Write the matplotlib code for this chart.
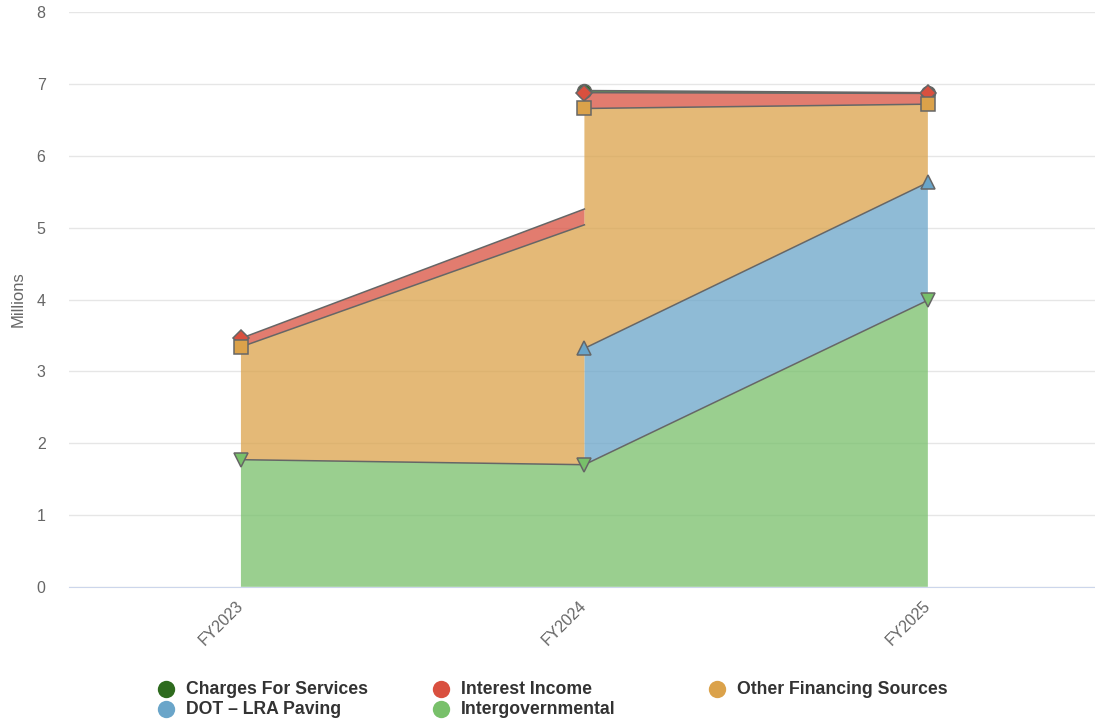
import matplotlib.pyplot as plt
import numpy as np

plt.rcParams["font.family"] = ["Liberation Sans", "DejaVu Sans"]

years = ["FY2023", "FY2024", "FY2025"]
# stacked bottom to top, values in millions (None = no data)
intergovernmental = [1.77, 1.70, 3.99]
dot_lra_paving = [None, 1.62, 1.64]
other_financing = [1.57, 3.34, 1.09]
interest_income = [0.12, 0.22, 0.15]
charges_for_services = [None, 0.03, 0.01]

series = [
    ("Intergovernmental", intergovernmental, "#78c06a", "v"),
    ("DOT \u2013 LRA Paving", dot_lra_paving, "#6aa5c9", "^"),
    ("Other Financing Sources", other_financing, "#dba24a", "s"),
    ("Interest Income", interest_income, "#d9503f", "D"),
    ("Charges For Services", charges_for_services, "#2e6b1e", "o"),
]
legend_order = ["Charges For Services", "Interest Income", "Other Financing Sources",
                "DOT \u2013 LRA Paving", "Intergovernmental"]

fig = plt.figure(figsize=(10.95, 7.2), dpi=100)
ax = fig.add_axes([0.0632, 0.185, 0.941, 0.798])

x = np.arange(len(years))
line_col = "#666666"

# per segment stacks: a series only counts where it has data at both ends
tops = {name: [] for name, *_ in series}
bots = {name: [] for name, *_ in series}
for i in range(len(years) - 1):
    base = np.zeros(2)
    for name, vals, col, mk in series:
        a, b = vals[i], vals[i + 1]
        if a is None or b is None:
            continue
        top = base + np.array([a, b])
        tops[name].append((x[i:i + 2], top))
        bots[name].append((x[i:i + 2], base.copy()))
        ax.plot(x[i:i + 2], top, color=line_col, lw=1.1, zorder=3)
        base = top

# one polygon per series so there are no seams at the steps
for name, vals, col, mk in series:
    if not tops[name]:
        continue
    tx = np.concatenate([s[0] for s in tops[name]])
    ty = np.concatenate([s[1] for s in tops[name]])
    bx = np.concatenate([s[0] for s in bots[name]])
    by = np.concatenate([s[1] for s in bots[name]])
    ax.fill(np.concatenate([tx, bx[::-1]]), np.concatenate([ty, by[::-1]]),
            color=col, alpha=0.75, lw=0, zorder=2)

# markers at stack tops, lower series drawn over upper ones
sizes = {"v": 10, "^": 10, "s": 9.5, "D": 8, "o": 10}
for j in range(len(years)):
    cum = 0
    for k, (name, vals, col, mk) in enumerate(series):
        if vals[j] is None:
            continue
        cum += vals[j]
        ax.plot(x[j], cum, marker=mk, ms=sizes[mk], mfc=col, mec=line_col, mew=1.1,
                zorder=10 - k, clip_on=False)

ax.set_xlim(-0.5, 2.5)
ax.set_ylim(0, 8)
ax.set_yticks(range(0, 9))
ax.set_xticks(x)
ax.set_xticklabels(years, rotation=45, ha="right", va="center", rotation_mode="anchor")
ax.tick_params(axis="both", length=0, labelsize=11.5, colors="#666666")
ax.tick_params(axis="y", pad=17)
ax.tick_params(axis="x", pad=12)
ax.grid(axis="y", color="#e6e6e6", lw=1, zorder=0)
for s in ["top", "right", "left"]:
    ax.spines[s].set_visible(False)
ax.spines["bottom"].set_color("#ccd6eb")
ax.spines["bottom"].set_zorder(5)
ax.set_ylabel("Millions", color="#666666", fontsize=12, labelpad=8)

# legend laid out like the original, three columns
colors = {name: col for name, vals, col, mk in series}
col_x = [166, 441, 717]
row_y = [689, 709]
for k, name in enumerate(legend_order):
    cx = col_x[k % 3]
    cy = row_y[k // 3]
    fig.lines.append(plt.Line2D([cx / 1095], [1 - cy / 720], marker="o", ms=12.5,
                                color=colors[name], mec="none", ls="none",
                                transform=fig.transFigure, figure=fig))
    fig.text((cx + 20) / 1095, 1 - cy / 720, name, fontsize=12.7, fontweight="bold",
             color="#333333", va="center", ha="left")

fig.savefig("out.png", dpi=100)
